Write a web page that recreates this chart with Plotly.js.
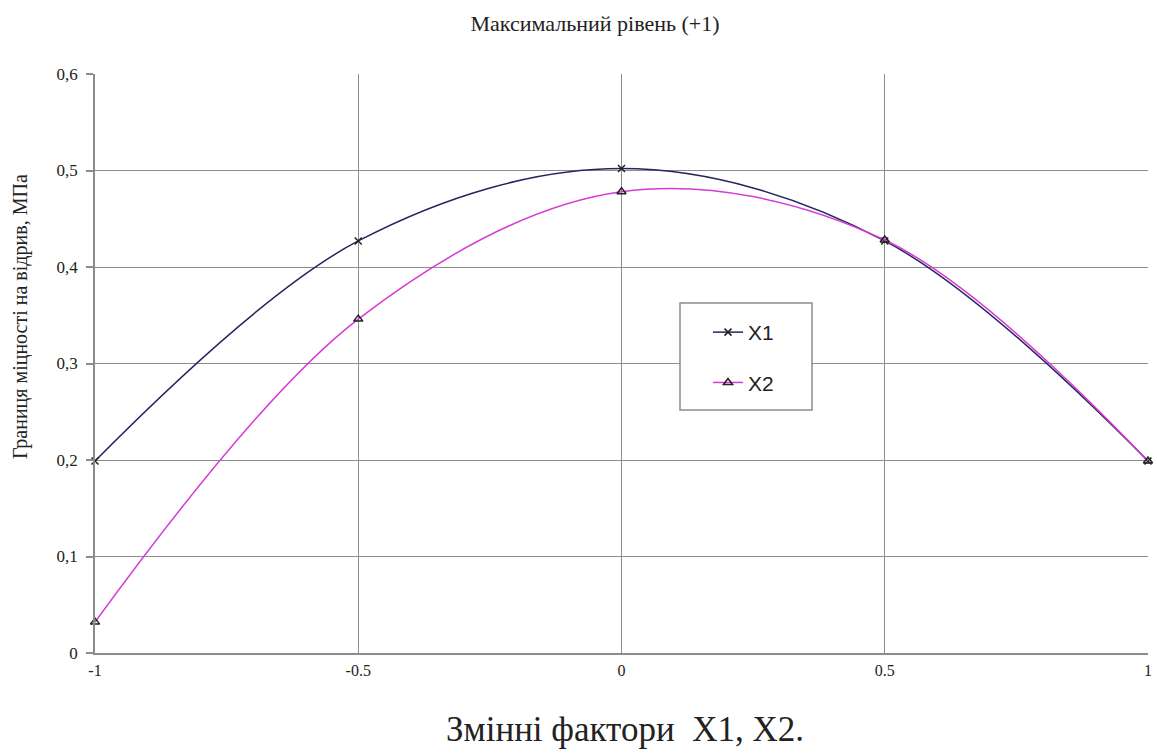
<!DOCTYPE html>
<html><head><meta charset="utf-8">
<script src="https://cdn.plot.ly/plotly-3.0.1.min.js"></script>
<style>body{margin:0;background:#fff}#c{width:1157px;height:756px}</style>
</head><body><div id="c"></div>
<script>
const xVals = [-1, -0.5, 0, 0.5, 1];
const x1Vals = [0.199, 0.427, 0.502, 0.427, 0.199];
const x2Vals = [0.032, 0.346, 0.478, 0.428, 0.199];
const yTickVals = [0, 0.1, 0.2, 0.3, 0.4, 0.5, 0.6];
const yTickText = ["0", "0,1", "0,2", "0,3", "0,4", "0,5", "0,6"];
const xTickVals = [-1, -0.5, 0, 0.5, 1];
const xTickText = ["-1", "-0.5", "0", "0.5", "1"];
const chartTitle = "Максимальний рівень (+1)";
const xTitle = "Змінні фактори&nbsp;&nbsp;X1, X2.";
const yTitle = "Границя міцності на відрив, МПа";

const serif = "'Liberation Serif', 'Times New Roman', serif";
const traces = [
  {x: xVals, y: x1Vals, name: "X1", mode: "lines+markers", legendgroup: "a", cliponaxis: false,
   line: {color: "#25255f", width: 1.5, shape: "spline", smoothing: 1},
   marker: {symbol: "x-thin-open", size: 7, color: "#222", line: {color: "#222", width: 1.5}}},
  {x: xVals, y: x2Vals, name: "X2", mode: "lines+markers", legendgroup: "b", cliponaxis: false,
   line: {color: "#d63ad6", width: 1.5, shape: "spline", smoothing: 1},
   marker: {symbol: "triangle-up-open", size: 8, color: "#222", line: {color: "#222", width: 1.5}}}
];
const PL = 95, PW = 1053, PB = 653, PH = 579;
const layout = {
  width: 1157, height: 756,
  margin: {l: 95, r: 9, t: 74, b: 103},
  paper_bgcolor: "#fff", plot_bgcolor: "#fff",
  showlegend: true,
  title: {text: chartTitle, font: {family: serif, size: 22, color: "#222"}, x: 595 / 1157, xanchor: "center", y: 1 - 23 / 756, yanchor: "middle"},
  xaxis: {range: [-1, 1], tickvals: xTickVals, ticktext: xTickText, showgrid: true, gridcolor: "#8c8c8c", gridwidth: 1,
    zeroline: false, showline: true, linecolor: "#8c8c8c", linewidth: 1.5,
    ticks: "", ticklabelstandoff: 2, tickfont: {family: serif, size: 16, color: "#222"}},
  yaxis: {range: [0, 0.6], tickvals: yTickVals, ticktext: yTickText, showgrid: true, gridcolor: "#8c8c8c", gridwidth: 1,
    zeroline: false, showline: true, linecolor: "#8c8c8c", linewidth: 1.5,
    ticks: "outside", ticklen: 7, tickcolor: "#8c8c8c", tickwidth: 1.5, ticklabelstandoff: 5,
    tickfont: {family: serif, size: 17, color: "#222"}},
  annotations: [
    {text: xTitle, xref: "paper", yref: "paper", x: (625 - PL) / PW, y: (PB - 729) / PH, xanchor: "center", yanchor: "middle",
     showarrow: false, font: {family: serif, size: 35, color: "#222"}},
    {text: yTitle, xref: "paper", yref: "paper", x: (20 - PL) / PW, y: (PB - 317) / PH, xanchor: "center", yanchor: "middle",
     textangle: -90, showarrow: false, font: {family: serif, size: 20, color: "#222"}}
  ],
  shapes: [{type: "rect", xref: "paper", yref: "paper", layer: "above",
    x0: (680 - PL) / PW, x1: (812 - PL) / PW, y0: (PB - 410) / PH, y1: (PB - 303) / PH,
    fillcolor: "#fff", line: {color: "#8c8c8c", width: 1.5}}],
  legend: {x: (708 - PL) / PW, y: (PB - 312) / PH, xanchor: "left", yanchor: "top", bgcolor: "rgba(0,0,0,0)", borderwidth: 0,
    font: {family: "'Liberation Sans', Arial, sans-serif", size: 21, color: "#222"}, traceorder: "grouped", tracegroupgap: 20,
    itemwidth: 30}
};
Plotly.newPlot("c", traces, layout, {displayModeBar: false});
</script></body></html>
